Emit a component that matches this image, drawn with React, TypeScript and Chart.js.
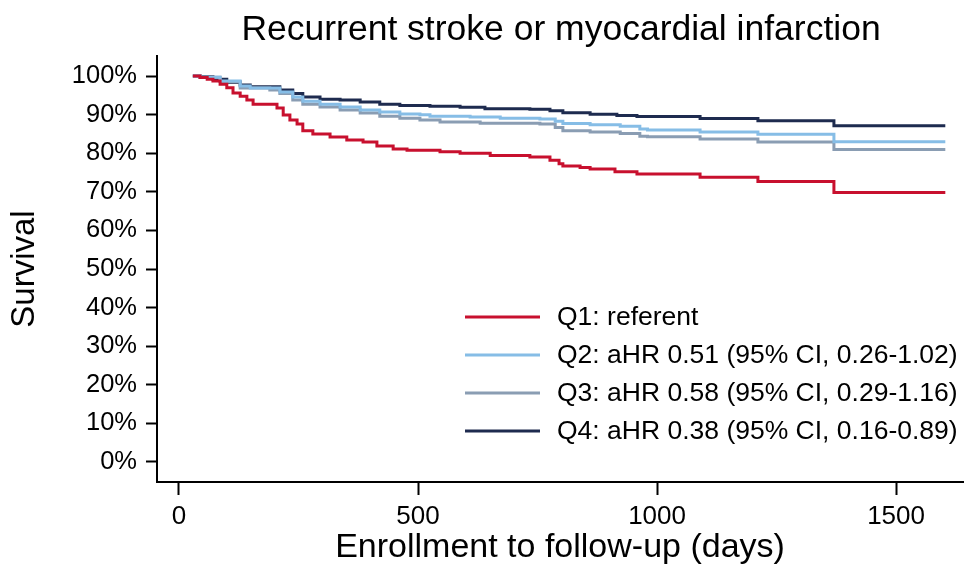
import React, { useEffect, useRef } from "react";
import { Chart, registerables } from "chart.js";

Chart.register(...registerables);

const TITLE = "Recurrent stroke or myocardial infarction";
const X_TITLE = "Enrollment to follow-up (days)";
const Y_TITLE = "Survival";
const X_TICKS = [0, 500, 1000, 1500];
const Y_TICKS = [0, 10, 20, 30, 40, 50, 60, 70, 80, 90, 100];

const LABELS = [
  "Q1: referent",
  "Q2: aHR 0.51 (95% CI, 0.26-1.02)",
  "Q3: aHR 0.58 (95% CI, 0.29-1.16)",
  "Q4: aHR 0.38 (95% CI, 0.16-0.89)",
];
const COLORS = ["#c8102e", "#86bde6", "#8a9db3", "#1e2b4f"];

const q1Days = [29, 44, 59, 71, 86, 100, 113, 128, 142, 155, 205, 218, 232, 247, 259, 280, 316, 351, 385, 414, 448, 477, 546, 588, 651, 734, 776, 795, 803, 839, 860, 912, 958, 1090, 1211, 1370, 1603];
const q1Surv = [100, 99.6, 99.2, 98.7, 97.9, 97.0, 95.6, 94.8, 93.8, 92.7, 91.7, 89.9, 88.6, 87.6, 85.8, 85.0, 84.2, 83.4, 82.9, 81.9, 81.1, 80.8, 80.4, 80.0, 79.4, 79.0, 78.2, 77.3, 76.7, 76.3, 75.9, 75.2, 74.6, 73.8, 72.7, 69.8, 69.8];

const q2Days = [29, 44, 86, 128, 149, 211, 238, 259, 295, 337, 379, 420, 462, 504, 525, 609, 672, 755, 787, 803, 860, 923, 964, 980, 1090, 1211, 1370, 1603];
const q2Surv = [100, 99.7, 98.7, 97.4, 96.9, 95.9, 94.6, 93.5, 92.7, 92.0, 91.2, 90.7, 90.2, 90.0, 89.6, 89.4, 89.1, 88.9, 88.3, 87.7, 87.4, 87.0, 86.3, 86.0, 85.5, 84.9, 83.0, 83.0];

const q3Days = [29, 44, 86, 128, 190, 211, 238, 259, 295, 337, 379, 420, 462, 504, 546, 630, 755, 787, 803, 860, 923, 964, 980, 1090, 1211, 1370, 1603];
const q3Surv = [100, 99.7, 98.6, 96.9, 96.4, 95.5, 93.8, 92.7, 92.0, 91.2, 90.4, 89.6, 89.1, 88.6, 88.1, 87.8, 87.6, 86.7, 85.8, 85.5, 85.1, 84.4, 84.3, 83.7, 82.9, 81.0, 81.0];

const q4Days = [29, 44, 71, 100, 128, 149, 211, 238, 259, 295, 337, 379, 420, 462, 525, 588, 640, 734, 776, 803, 860, 916, 958, 1090, 1211, 1370, 1603];
const q4Surv = [100, 99.8, 99.2, 98.4, 97.7, 97.2, 96.4, 95.5, 94.6, 94.0, 93.8, 93.3, 92.7, 92.4, 92.2, 91.9, 91.5, 91.4, 91.0, 90.5, 90.1, 89.8, 89.5, 89.0, 88.4, 87.1, 87.1];

const DAYS = [q1Days, q2Days, q3Days, q4Days];
const SURV = [q1Surv, q2Surv, q3Surv, q4Surv];

const FONT = "'Liberation Sans', Arial, Helvetica, sans-serif";

const overlayPlugin = {
  id: "overlay",
  afterDraw(chart: any) {
    const { ctx, chartArea } = chart;
    ctx.save();
    // title
    ctx.fillStyle = "#000";
    ctx.font = `35.5px ${FONT}`;
    ctx.textAlign = "center";
    ctx.textBaseline = "middle";
    ctx.fillText(TITLE, (chartArea.left + chartArea.right) / 2 + 1, 30);
    // legend
    ctx.font = `26.5px ${FONT}`;
    ctx.textAlign = "left";
    chart.data.datasets.forEach((ds: any, i: number) => {
      const y = 317 + i * 38;
      ctx.strokeStyle = ds.borderColor;
      ctx.lineWidth = 3;
      ctx.beginPath();
      ctx.moveTo(465, y);
      ctx.lineTo(540, y);
      ctx.stroke();
      ctx.fillStyle = "#000";
      ctx.fillText(ds.label, 557, y + 1);
    });
    ctx.restore();
  },
};

export default function App() {
  const ref = useRef<HTMLCanvasElement | null>(null);
  useEffect(() => {
    if (!ref.current) return;
    const datasets = LABELS.map((label, i) => ({
      label,
      data: DAYS[i].map((d, j) => ({ x: d, y: SURV[i][j] })),
      borderColor: COLORS[i],
      backgroundColor: COLORS[i],
      borderWidth: 3,
      pointRadius: 0,
      stepped: true as const,
      fill: false,
    }));
    const chart = new Chart(ref.current, {
      type: "line",
      data: { datasets },
      plugins: [overlayPlugin],
      options: {
        responsive: false,
        animation: false,
        layout: { padding: { top: 56, right: 1, left: 0, bottom: 0 } },
        plugins: { legend: { display: false }, tooltip: { enabled: false } },
        scales: {
          x: {
            type: "linear",
            min: -46,
            max: 1640,
            afterBuildTicks: (s: any) => {
              s.ticks = X_TICKS.map((v) => ({ value: v }));
            },
            afterFit: (s: any) => {
              s.height = 91;
            },
            ticks: {
              color: "#000",
              font: { family: FONT, size: 26 },
              padding: 6,
              maxRotation: 0,
              callback: (v: any) => String(v),
            },
            grid: {
              drawOnChartArea: false,
              drawTicks: true,
              tickLength: 13,
              tickColor: "#000",
              tickWidth: 2,
            },
            border: { color: "#000", width: 2 },
            title: {
              display: true,
              text: X_TITLE,
              color: "#000",
              font: { family: FONT, size: 34 },
              padding: { top: 0, bottom: 5 },
            },
          },
          y: {
            type: "linear",
            min: -5.2,
            max: 105.2,
            afterBuildTicks: (s: any) => {
              s.ticks = Y_TICKS.map((v) => ({ value: v }));
            },
            afterFit: (s: any) => {
              s.width = 157;
            },
            ticks: {
              color: "#000",
              font: { family: FONT, size: 25.5 },
              padding: 9,
              callback: (v: any) => `${v}%`,
            },
            grid: {
              drawOnChartArea: false,
              drawTicks: true,
              tickLength: 11,
              tickColor: "#000",
              tickWidth: 2,
            },
            border: { color: "#000", width: 2 },
            title: {
              display: true,
              text: Y_TITLE,
              color: "#000",
              font: { family: FONT, size: 33 },
              padding: { top: 5, bottom: 0 },
            },
          },
        },
      },
    });
    return () => chart.destroy();
  }, []);
  return (
    <div style={{ position: "fixed", left: 0, top: 0, width: 964, height: 573, background: "#fff" }}>
      <canvas ref={ref} width={964} height={573} />
    </div>
  );
}
